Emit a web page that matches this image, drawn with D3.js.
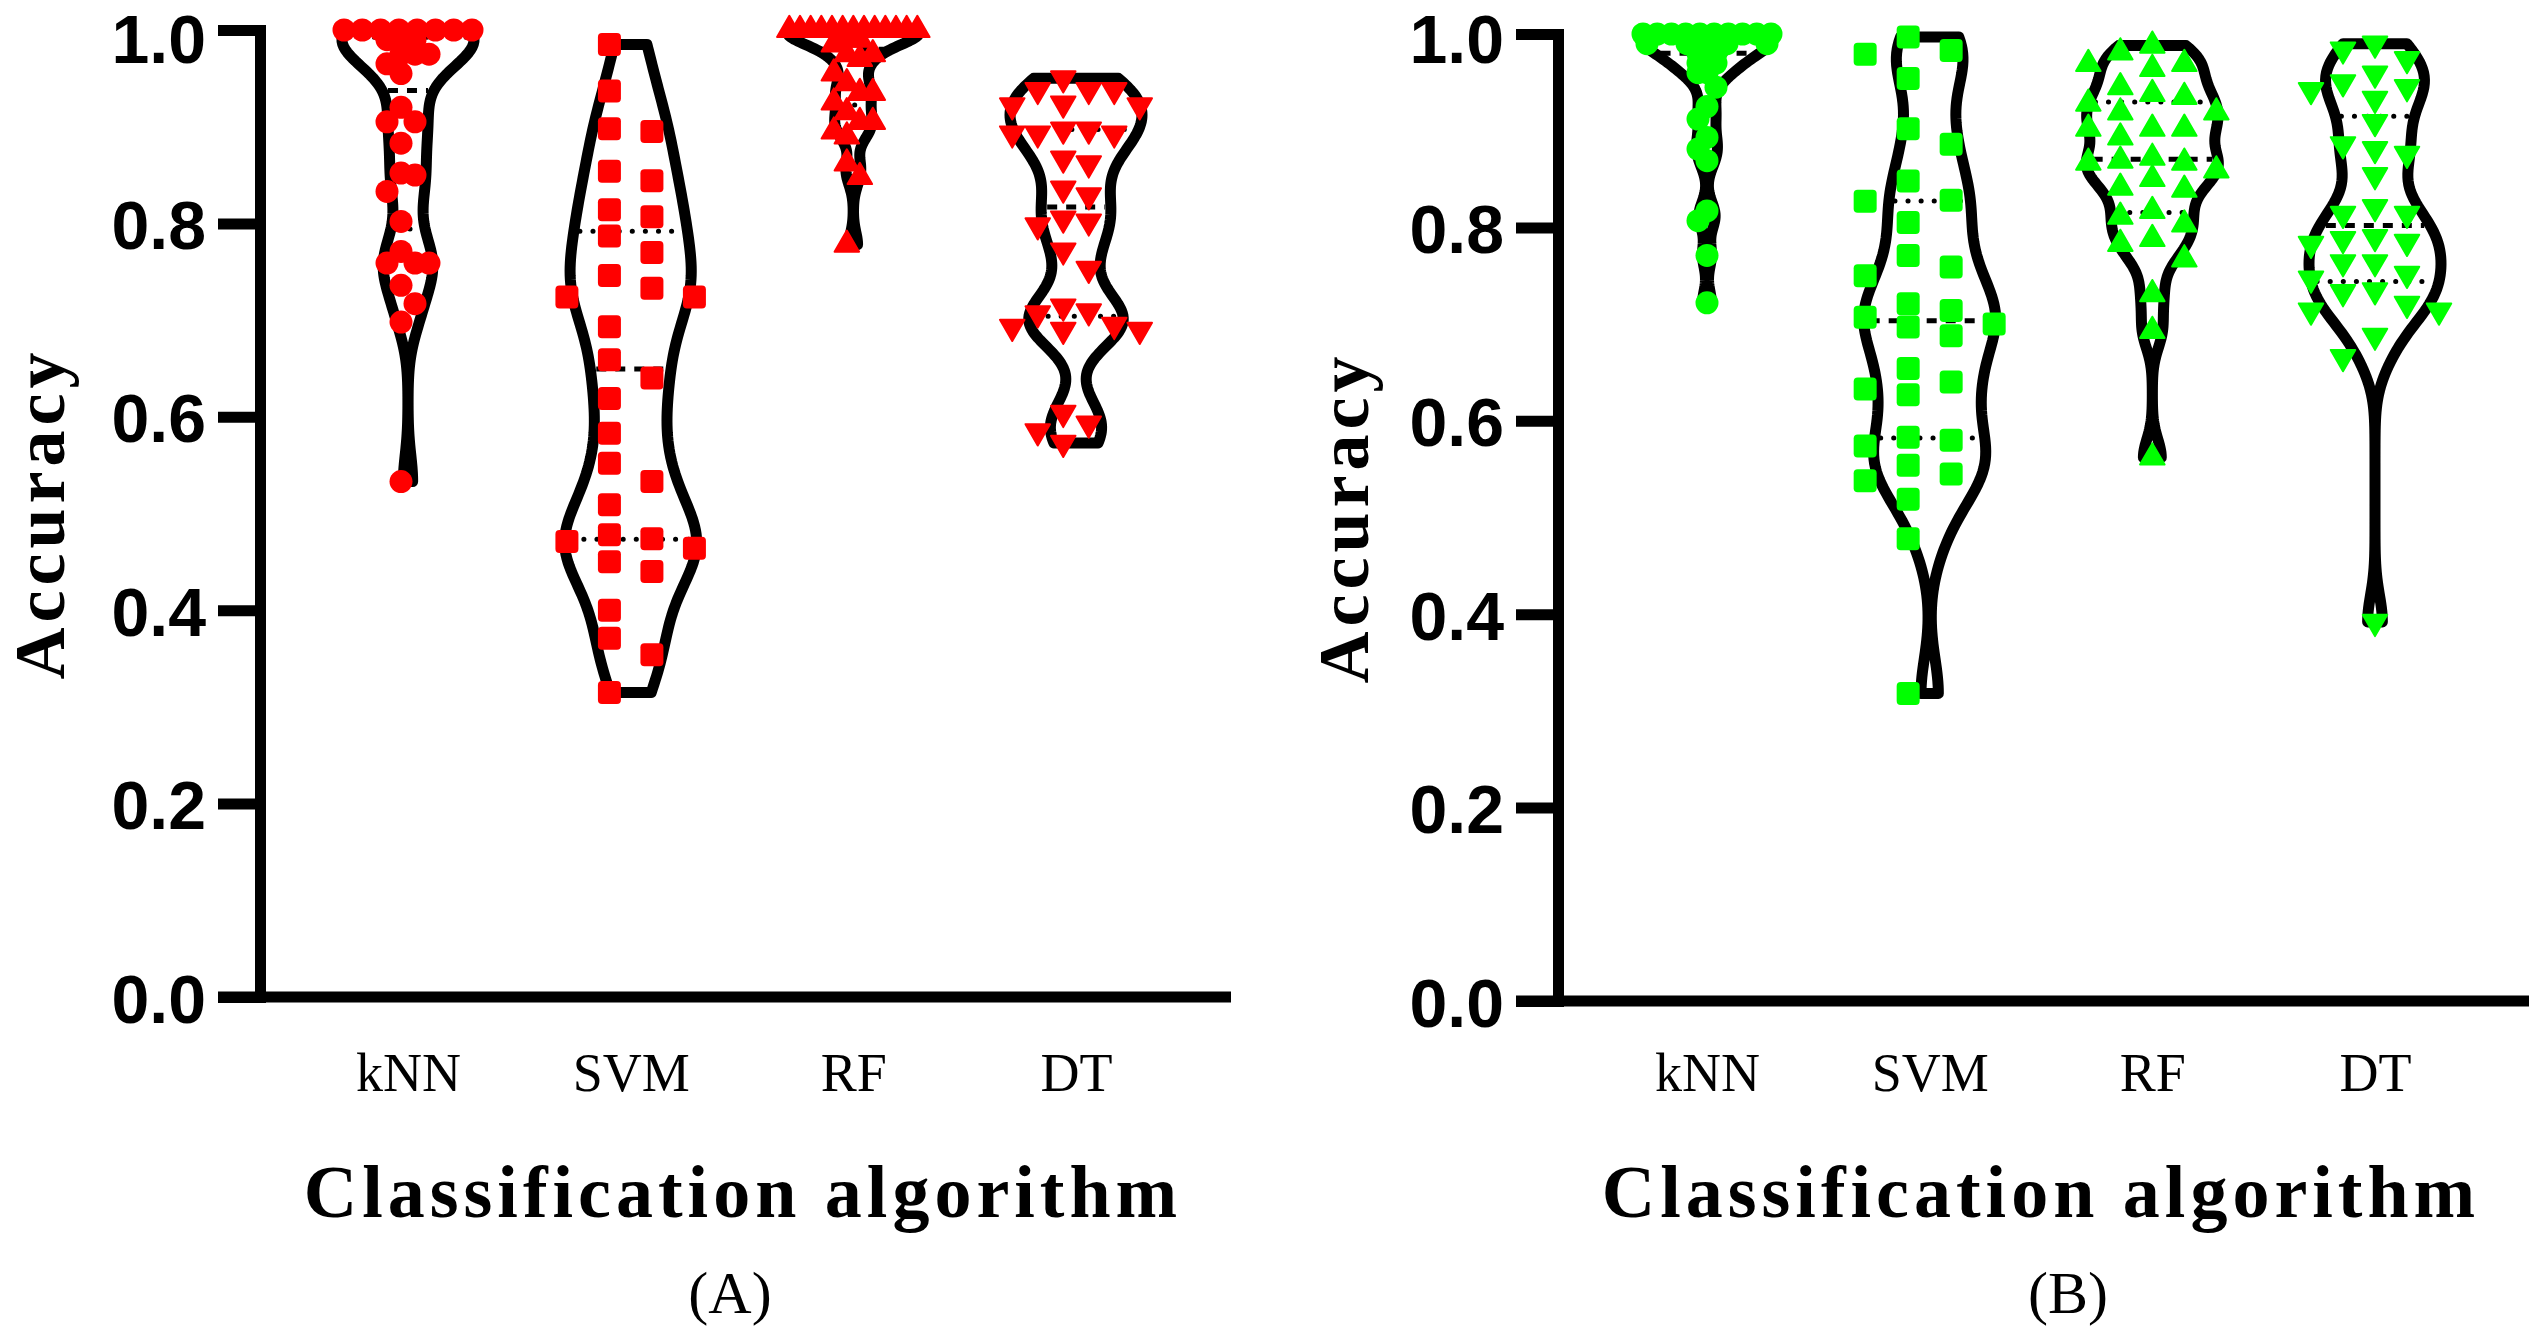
<!DOCTYPE html>
<html>
<head>
<meta charset="utf-8">
<script src="https://cdn.jsdelivr.net/npm/d3@7"></script>
<style>
  html, body { margin: 0; padding: 0; background: #fff; }
  svg { display: block; }
</style>
</head>
<body>
<svg id="chart" width="2532" height="1329"></svg>
<script>
// ---- data ----
const categories = ["kNN", "SVM", "RF", "DT"];
const yTicks = [0, 0.2, 0.4, 0.6, 0.8, 1.0];
const xTitle = "Classification algorithm";
const yTitle = "Accuracy";

// panel (A)
const knnA = [1.0, 1.0, 1.0, 1.0, 1.0, 1.0, 1.0, 1.0, 0.99, 0.99, 0.99, 0.975, 0.975, 0.975, 0.965, 0.955,
  0.92, 0.905, 0.905, 0.883, 0.852, 0.85, 0.833, 0.802, 0.771, 0.759, 0.759, 0.759, 0.736, 0.717, 0.698, 0.533];
const svmA = [0.985, 0.937, 0.898, 0.895, 0.854, 0.844, 0.814, 0.807, 0.787, 0.77, 0.746, 0.733, 0.724, 0.724, 0.693, 0.659,
  0.64, 0.619, 0.583, 0.552, 0.533, 0.509, 0.478, 0.474, 0.471, 0.464, 0.45, 0.44, 0.4, 0.371, 0.354, 0.315];
const rfA = [1.0, 1.0, 1.0, 1.0, 1.0, 1.0, 1.0, 1.0, 1.0, 1.0, 1.0, 1.0, 1.0, 0.99, 0.99, 0.985,
  0.975, 0.975, 0.97, 0.955, 0.945, 0.935, 0.935, 0.925, 0.915, 0.905, 0.905, 0.895, 0.89, 0.862, 0.848, 0.778];
const dtA = [0.95, 0.938, 0.938, 0.938, 0.924, 0.922, 0.922, 0.897, 0.897, 0.893, 0.893, 0.893, 0.867, 0.862, 0.836, 0.829,
  0.805, 0.802, 0.798, 0.772, 0.753, 0.714, 0.709, 0.707, 0.695, 0.693, 0.69, 0.69, 0.604, 0.593, 0.585, 0.573];

// panel (B)
const knnB = [1.0, 1.0, 1.0, 1.0, 1.0, 1.0, 1.0, 1.0, 1.0, 1.0, 0.99, 0.99, 0.99, 0.99, 0.98, 0.98,
  0.98, 0.97, 0.97, 0.97, 0.96, 0.96, 0.945, 0.925, 0.912, 0.893, 0.881, 0.869, 0.817, 0.807, 0.771, 0.722];
const svmB = [0.997, 0.983, 0.979, 0.954, 0.902, 0.886, 0.848, 0.828, 0.827, 0.805, 0.771, 0.759, 0.75, 0.721, 0.714, 0.707,
  0.7, 0.697, 0.688, 0.654, 0.64, 0.633, 0.627, 0.583, 0.58, 0.574, 0.554, 0.545, 0.538, 0.519, 0.478, 0.318];
const rfB = [0.988, 0.981, 0.969, 0.969, 0.964, 0.945, 0.938, 0.935, 0.928, 0.919, 0.919, 0.902, 0.902, 0.902, 0.893, 0.872,
  0.869, 0.867, 0.867, 0.859, 0.85, 0.841, 0.839, 0.817, 0.811, 0.803, 0.788, 0.783, 0.767, 0.731, 0.693, 0.562];
const dtB = [0.99, 0.984, 0.974, 0.959, 0.95, 0.945, 0.942, 0.933, 0.909, 0.886, 0.881, 0.876, 0.854, 0.821, 0.814, 0.814,
  0.79, 0.788, 0.785, 0.783, 0.764, 0.764, 0.752, 0.747, 0.735, 0.733, 0.721, 0.714, 0.714, 0.688, 0.666, 0.392];

// ---- layout ----
const panels = [
  { label: "(A)", color: "#ff0000", series: [knnA, svmA, rfA, dtA],
    axisX: 260, yRange: [997, 30], centers: [408, 1076], xEnd: 1231,
    titleX: 743, labelX: 730, yTitleX: 64,
    swarm: [{ cols: 4, step: 14 }, { cols: 4, step: 42.5 }, { cols: 4, step: 13 }, { cols: 6, step: 25.5 }] },
  { label: "(B)", color: "#00ff00", series: [knnB, svmB, rfB, dtB],
    axisX: 1558, yRange: [1001, 34], centers: [1707, 2375], xEnd: 2529,
    titleX: 2041, labelX: 2068, yTitleX: 1368,
    swarm: [{ cols: 3, step: 9 }, { cols: 4, step: 43 }, { cols: 5, step: 32 }, { cols: 5, step: 32 }] }
];
const shapes = ["circle", "square", "up", "down"];
const maxHalf = 66;     // half width of the widest violin (stroke centre)
const symSize = 23;
const lineW = 11;

const svg = d3.select("#chart");

// gaussian kde, bandwidth = half of Silverman's rule
function makeKde(values) {
  const n = values.length;
  const sd = d3.deviation(values);
  const iqr = d3.quantile(values, 0.75) - d3.quantile(values, 0.25);
  const spread = Math.min(sd, iqr / 1.34 || sd);
  const h = 0.5 * 0.9 * spread * Math.pow(n, -0.2);
  return v => d3.sum(values, x => Math.exp(-0.5 * ((v - x) / h) ** 2));
}

// simple beeswarm on a grid of columns
function swarm(values, y, cx, cols, step) {
  const pts = values.map(v => ({ v, y: y(v) })).sort((a, b) => a.y - b.y);
  const slots = d3.range(cols).map(j => (j - (cols - 1) / 2) * step)
    .sort((a, b) => Math.abs(a) - Math.abs(b) || a - b);
  const placed = [];
  let i = 0;
  while (i < pts.length) {
    let j = i;
    while (j + 1 < pts.length && pts[j + 1].y - pts[i].y < 3) j++;
    const k = j - i + 1;
    if (k > cols) {
      const s = Math.min(Math.max(step, 40), 128 / (k - 1));
      for (let m = 0; m < k; m++) {
        pts[i + m].x = cx + (m - (k - 1) / 2) * s;
        placed.push(pts[i + m]);
      }
    } else {
      for (let m = i; m <= j; m++) {
        const p = pts[m];
        let best = null, bestD = -1;
        for (const o of slots) {
          const x = cx + o;
          let d = Infinity;
          for (const q of placed) {
            if (Math.abs(q.y - p.y) < symSize && Math.abs(q.x - x) < step * 0.9) d = Math.min(d, Math.abs(q.y - p.y));
          }
          if (d === Infinity) { best = x; break; }
          if (d > bestD) { bestD = d; best = x; }
        }
        p.x = best;
        placed.push(p);
      }
    }
    i = j + 1;
  }
  return pts;
}

panels.forEach(panel => {
  const y = d3.scaleLinear().domain([0, 1]).range(panel.yRange);
  const x = d3.scalePoint().domain(categories).range(panel.centers);
  const g = svg.append("g");

  // y axis
  const yAxis = g.append("g")
    .attr("transform", `translate(${panel.axisX},0)`)
    .call(d3.axisLeft(y).tickValues(yTicks).tickFormat(d3.format(".1f"))
      .tickSize(42).tickSizeOuter(0).tickPadding(12));
  yAxis.select(".domain").attr("stroke-width", lineW).attr("stroke-linecap", "square");
  yAxis.selectAll(".tick line").attr("stroke-width", lineW);
  yAxis.selectAll(".tick text")
    .attr("fill", "#000")
    .attr("dy", "0.37em")
    .style("font-family", "'Liberation Sans', Arial, sans-serif")
    .style("font-weight", "bold")
    .style("font-size", "68px");

  // x axis baseline + category labels
  g.append("line")
    .attr("x1", panel.axisX - 42).attr("x2", panel.xEnd)
    .attr("y1", y(0)).attr("y2", y(0))
    .attr("stroke", "#000").attr("stroke-width", lineW);

  const xAxis = g.append("g")
    .attr("transform", `translate(0,${y(0)})`)
    .call(d3.axisBottom(x).tickSize(0).tickPadding(1091 - y(0) - 0.71 * 54));
  xAxis.select(".domain").remove();
  xAxis.selectAll(".tick text")
    .attr("fill", "#000")
    .style("font-family", "'Liberation Serif', 'Times New Roman', serif")
    .style("font-size", "54px");

  // axis titles
  g.append("text")
    .attr("x", panel.titleX).attr("y", 1217)
    .attr("text-anchor", "middle")
    .style("font-family", "'Liberation Serif', 'Times New Roman', serif")
    .style("font-weight", "bold").style("font-size", "74px")
    .style("letter-spacing", "5px")
    .text(xTitle);

  g.append("text")
    .attr("transform", `translate(${panel.yTitleX},${(panel.yRange[0] + panel.yRange[1]) / 2}) rotate(-90)`)
    .attr("text-anchor", "middle")
    .style("font-family", "'Liberation Serif', 'Times New Roman', serif")
    .style("font-weight", "bold").style("font-size", "72px")
    .style("letter-spacing", "5px")
    .text(yTitle);

  g.append("text")
    .attr("x", panel.labelX).attr("y", 1313)
    .attr("text-anchor", "middle")
    .style("font-family", "'Liberation Serif', 'Times New Roman', serif")
    .style("font-size", "60px")
    .text(panel.label);

  // violins
  panel.series.forEach((values, ci) => {
    const cx = x(categories[ci]);
    const kde = makeKde(values);
    const [lo, hi] = d3.extent(values);
    const samples = d3.range(0, 161).map(k => lo + (hi - lo) * k / 160);
    const dens = samples.map(kde);
    const dmax = d3.max(dens);
    const half = v => kde(v) / dmax * maxHalf;

    const left = samples.map((v, k) => [cx - dens[k] / dmax * maxHalf, y(v)]);
    const right = samples.map((v, k) => [cx + dens[k] / dmax * maxHalf, y(v)]).reverse();
    g.append("path")
      .attr("d", d3.line()(left.concat(right)) + "Z")
      .attr("fill", "none")
      .attr("stroke", "#000")
      .attr("stroke-width", lineW)
      .attr("stroke-linejoin", "round");

    // median (dashed) and quartiles (dotted)
    const sorted = values.slice().sort(d3.ascending);
    [[0.25, "dot"], [0.5, "dash"], [0.75, "dot"]].forEach(([p, kind]) => {
      const q = d3.quantile(sorted, p);
      const w = half(q) - 6;
      if (w < 4) return;
      g.append("line")
        .attr("x1", cx - w).attr("x2", cx + w)
        .attr("y1", y(q)).attr("y2", y(q))
        .attr("stroke", "#000")
        .attr("stroke-width", 5)
        .attr("stroke-linecap", kind === "dot" ? "round" : "butt")
        .attr("stroke-dasharray", kind === "dot" ? "0.1,13" : "10,9");
    });

    // points
    const { cols, step } = panel.swarm[ci];
    const pts = swarm(values, y, cx, cols, step);
    const shape = shapes[ci];
    const marks = g.append("g").attr("fill", panel.color);
    if (shape === "circle") {
      marks.selectAll("circle").data(pts).join("circle")
        .attr("cx", d => d.x).attr("cy", d => d.y).attr("r", symSize / 2);
    } else if (shape === "square") {
      marks.selectAll("rect").data(pts).join("rect")
        .attr("x", d => d.x - symSize / 2).attr("y", d => d.y - symSize / 2)
        .attr("width", symSize).attr("height", symSize).attr("rx", 4);
    } else {
      const tri = d3.symbol().type(d3.symbolTriangle).size(260);
      marks.selectAll("path").data(pts).join("path")
        .attr("d", tri)
        .attr("stroke", panel.color).attr("stroke-width", 2).attr("stroke-linejoin", "round")
        .attr("transform", d => `translate(${d.x},${d.y})` + (shape === "down" ? " rotate(180)" : ""));
    }
  });
});

// keep text boxes inside the picture (top edge)
svg.selectAll("text").each(function () {
  const r = this.getBoundingClientRect();
  if (r.top < 0) {
    const dy = parseFloat(d3.select(this).attr("dy")) || 0;
    const fs = parseFloat(d3.select(this).style("font-size"));
    d3.select(this).attr("dy", (dy + (-r.top + 1) / fs) + "em");
  }
});
</script>
</body>
</html>
